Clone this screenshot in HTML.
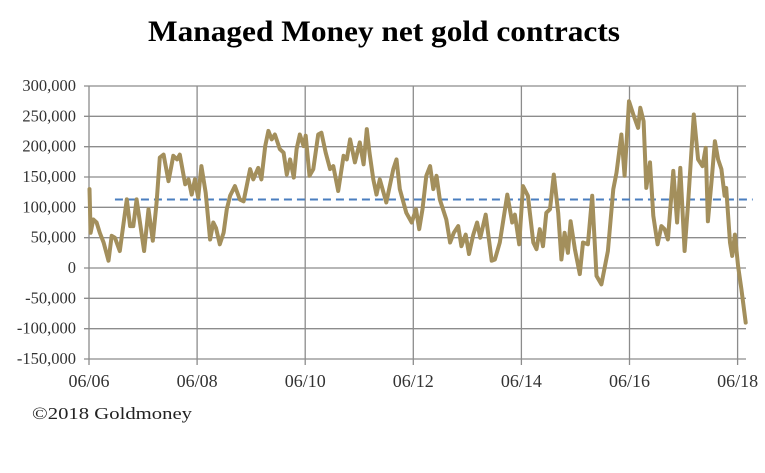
<!DOCTYPE html>
<html><head><meta charset="utf-8"><style>
body{margin:0;background:#fff;width:765px;height:468px;overflow:hidden;font-family:"Liberation Serif",serif}
</style></head><body>
<svg width="765" height="468" id="c">
<text x="384" y="41" text-anchor="middle" font-size="30" font-weight="bold" font-family="Liberation Serif" fill="#000" textLength="472" lengthAdjust="spacingAndGlyphs">Managed Money net gold contracts</text>
<text x="32" y="419" font-size="17" font-family="Liberation Serif" fill="#222" textLength="160" lengthAdjust="spacingAndGlyphs">©2018 Goldmoney</text>
</svg>
<script>
const yTicks=[300000,250000,200000,150000,100000,50000,0,-50000,-100000,-150000];
const xTickYears=[2006.42,2008.42,2010.42,2012.42,2014.42,2016.42,2018.42];
const xTickLabels=["06/06","06/08","06/10","06/12","06/14","06/16","06/18"];
const avgValue=113000;
const avgRange=[2006.9,2018.7];
const dates=[2006.43,2006.45,2006.50,2006.56,2006.62,2006.69,2006.78,2006.84,2006.90,2006.99,2007.12,2007.18,2007.24,2007.30,2007.36,2007.44,2007.52,2007.60,2007.67,2007.73,2007.80,2007.89,2007.98,2008.05,2008.10,2008.20,2008.26,2008.32,2008.38,2008.44,2008.50,2008.58,2008.66,2008.72,2008.77,2008.84,2008.91,2008.97,2009.03,2009.12,2009.21,2009.28,2009.40,2009.46,2009.55,2009.61,2009.68,2009.74,2009.80,2009.86,2009.95,2010.02,2010.08,2010.14,2010.21,2010.26,2010.32,2010.39,2010.43,2010.50,2010.57,2010.66,2010.72,2010.80,2010.88,2010.94,2011.03,2011.13,2011.19,2011.25,2011.34,2011.43,2011.50,2011.56,2011.61,2011.68,2011.74,2011.80,2011.92,2012.05,2012.11,2012.17,2012.29,2012.39,2012.47,2012.53,2012.59,2012.66,2012.73,2012.79,2012.85,2012.91,2013.03,2013.10,2013.17,2013.25,2013.31,2013.39,2013.45,2013.53,2013.60,2013.66,2013.76,2013.87,2013.93,2014.02,2014.16,2014.25,2014.30,2014.38,2014.45,2014.54,2014.64,2014.70,2014.76,2014.82,2014.88,2014.95,2015.02,2015.10,2015.16,2015.22,2015.28,2015.33,2015.41,2015.50,2015.56,2015.65,2015.73,2015.81,2015.90,2016.02,2016.12,2016.18,2016.27,2016.33,2016.41,2016.49,2016.58,2016.62,2016.68,2016.73,2016.80,2016.86,2016.94,2017.01,2017.07,2017.13,2017.23,2017.30,2017.36,2017.44,2017.50,2017.61,2017.69,2017.77,2017.83,2017.87,2017.94,2018.00,2018.06,2018.12,2018.18,2018.21,2018.28,2018.32,2018.37,2018.43,2018.49,2018.57];
const values=[130000,58000,80000,75000,58000,42000,12000,53000,50000,28000,113000,69000,69000,113000,77000,28000,97000,45000,108000,182000,187000,143000,185000,179000,187000,138000,146000,121000,146000,116000,168000,124000,47000,75000,66000,39000,58000,97000,119000,135000,113000,110000,163000,146000,165000,146000,201000,226000,212000,220000,196000,190000,154000,179000,149000,196000,220000,201000,218000,152000,163000,220000,223000,190000,163000,168000,127000,185000,179000,212000,174000,207000,171000,229000,190000,146000,121000,146000,108000,163000,179000,130000,91000,75000,97000,64000,97000,152000,168000,130000,152000,113000,80000,42000,58000,69000,36000,55000,23000,55000,75000,50000,88000,12000,14000,42000,121000,75000,88000,39000,135000,119000,42000,31000,64000,36000,91000,97000,154000,91000,14000,58000,25000,77000,31000,-10000,42000,39000,119000,-13000,-27000,28000,130000,157000,220000,152000,275000,253000,231000,264000,242000,132000,174000,86000,39000,69000,64000,47000,160000,75000,165000,28000,102000,253000,179000,168000,198000,77000,146000,209000,179000,163000,119000,132000,42000,20000,55000,3000,-35000,-90000];

const NS="http://www.w3.org/2000/svg";
const svg=document.getElementById('c');
const L=89,R=746,T=86,B=359;
const yMin=-150000,yMax=300000;
const x0=2006.42,pxPerYear=54.05;
function sx(t){return L+(t-x0)*pxPerYear;}
function sy(v){return B-(v-yMin)/(yMax-yMin)*(B-T);}
function mk(tag,attrs){const e=document.createElementNS(NS,tag);for(const k in attrs)e.setAttribute(k,attrs[k]);svg.appendChild(e);return e;}
yTicks.forEach(v=>{
  const g=mk('line',{x1:L-5,x2:R,y1:sy(v),y2:sy(v),stroke:'#8c8c8c','stroke-width':1.3});
  
  
  const t=mk('text',{x:L-13,y:sy(v)+5,'text-anchor':'end','font-size':16.5,'font-family':'Liberation Serif',fill:'#333'});
  t.textContent=v.toLocaleString('en-US');
  
  
});
xTickYears.forEach((yr,i)=>{
  const g=mk('line',{x1:sx(yr),x2:sx(yr),y1:T,y2:B+6,stroke:'#8c8c8c','stroke-width':1.3});
  
  
  const t=mk('text',{x:sx(yr),y:B+28,'text-anchor':'middle','font-size':18,'font-family':'Liberation Serif',fill:'#333'});
  t.textContent=xTickLabels[i];
  
  
});
const avg=mk('line',{x1:sx(avgRange[0]),x2:sx(avgRange[1]),y1:sy(avgValue),y2:sy(avgValue),stroke:'#4a7ebf','stroke-width':2,'stroke-dasharray':'8,5'});


const pts=dates.map((d,i)=>sx(d).toFixed(1)+','+sy(values[i]).toFixed(1)).join(' ');
const line=mk('polyline',{points:pts,fill:'none',stroke:'#a38f5c','stroke-width':4,'stroke-linejoin':'round','stroke-linecap':'round'});


</script>
</body></html>
